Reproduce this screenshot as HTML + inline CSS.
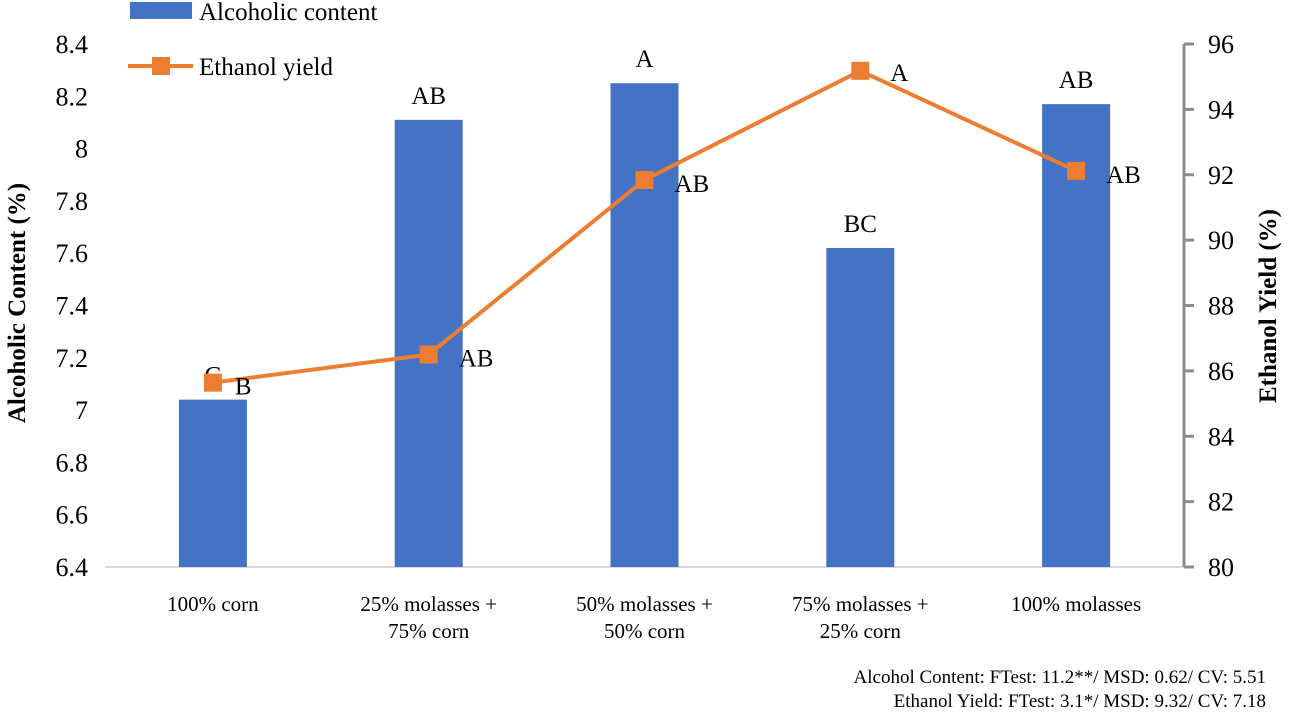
<!DOCTYPE html>
<html><head><meta charset="utf-8"><style>
html,body{margin:0;padding:0;background:#fff;}
svg{display:block;font-family:"Liberation Serif",serif;}
</style></head><body>
<svg id="chart" width="1292" height="713" viewBox="0 0 1292 713" xmlns="http://www.w3.org/2000/svg">
<g id="g"></g>
</svg>
<script>
const categories = [["100% corn"],["25% molasses +","75% corn"],["50% molasses +","50% corn"],["75% molasses +","25% corn"],["100% molasses"]];
const alcoholValues = [7.04, 8.11, 8.25, 7.62, 8.17];
const alcoholLabels = ["C","AB","A","BC","AB"];
const yieldValues = [85.64, 86.5, 91.84, 95.18, 92.12];
const yieldLabels = ["B","AB","AB","A","AB"];
const leftTicks = [6.4,6.6,6.8,7,7.2,7.4,7.6,7.8,8,8.2,8.4];
const leftTickLabels = ["6.4","6.6","6.8","7","7.2","7.4","7.6","7.8","8","8.2","8.4"];
const rightTicks = [80,82,84,86,88,90,92,94,96];

const NS="http://www.w3.org/2000/svg";
const gEl=document.getElementById('g');
const plotTop=44, plotBottom=567, px0=105, px1=1184;
const yL=v=>plotBottom-(v-6.4)/(8.4-6.4)*(plotBottom-plotTop);
const yR=v=>plotBottom-(v-80)/(96-80)*(plotBottom-plotTop);
const band=(px1-px0)/categories.length;
const xC=i=>px0+band*(i+0.5);
function mk(tag,attrs,text){const e=document.createElementNS(NS,tag);for(const k in attrs)e.setAttribute(k,attrs[k]);if(text!==undefined)e.textContent=text;gEl.appendChild(e);return e;}

leftTicks.forEach((t,i)=>{
  const e=mk('text',{x:88,y:yL(t)+9,'text-anchor':'end','font-size':26,fill:'#000'},leftTickLabels[i]);
  
  
});
const bl=mk('line',{x1:px0,y1:plotBottom,x2:px1,y2:plotBottom,stroke:'#d9d9d9','stroke-width':2});


alcoholValues.forEach((v,i)=>{
  const r=mk('rect',{x:xC(i)-34,y:yL(v),width:68,height:plotBottom-yL(v),fill:'#4472c4'});
  
  
  const t=mk('text',{x:xC(i),y:yL(v)-16,'text-anchor':'middle','font-size':25,fill:'#000'},alcoholLabels[i]);
  
  
});
const ra=mk('path',{d:`M${px1} ${plotTop} V${plotBottom}`,stroke:'#8c8c8c','stroke-width':3,fill:'none'});


rightTicks.forEach(t=>{
  const l=mk('line',{x1:px1,y1:yR(t),x2:px1+10,y2:yR(t),stroke:'#8c8c8c','stroke-width':3});
  
  
  const e=mk('text',{x:1208,y:yR(t)+9,'font-size':26,fill:'#000'},String(t));
  
  
});
const pts=yieldValues.map((v,i)=>`${xC(i)},${yR(v)}`).join(' ');
const pl=mk('polyline',{points:pts,fill:'none',stroke:'#ed7d31','stroke-width':4});


yieldValues.forEach((v,i)=>{
  const r=mk('rect',{x:xC(i)-9,y:yR(v)-9,width:18,height:18,fill:'#ed7d31'});
  
  
  const t=mk('text',{x:xC(i)+(i===0?22:30),y:yR(v)+(i===3?10:12),'font-size':25,fill:'#000'},yieldLabels[i]);
  
  
});
categories.forEach((c,i)=>{
  c.forEach((line,j)=>{
    const t=mk('text',{x:xC(i),y:611+j*27,'text-anchor':'middle','font-size':21,fill:'#000'},line);
    
    
  });
});
</script>
<script>
(function(){
const NS="http://www.w3.org/2000/svg";const s=document.getElementById('chart');
function mk(tag,attrs,text){const e=document.createElementNS(NS,tag);for(const k in attrs)e.setAttribute(k,attrs[k]);if(text!==undefined)e.textContent=text;s.appendChild(e);return e;}
let e;
e=mk('text',{x:0,y:0,transform:'translate(25,303) rotate(-90)','text-anchor':'middle','font-size':25,'font-weight':'bold'},'Alcoholic Content (%)');


e=mk('text',{x:0,y:0,transform:'translate(1276,306) rotate(-90)','text-anchor':'middle','font-size':25,'font-weight':'bold'},'Ethanol Yield (%)');


e=mk('rect',{x:130,y:2,width:62,height:17,fill:'#4472c4'});


e=mk('text',{x:199,y:20,'font-size':25},'Alcoholic content');


e=mk('line',{x1:128,y1:66,x2:193,y2:66,stroke:'#ed7d31','stroke-width':4});


e=mk('rect',{x:152,y:57,width:18,height:18,fill:'#ed7d31'});


e=mk('text',{x:199,y:75,'font-size':25},'Ethanol yield');


e=mk('text',{x:1266,y:683,'text-anchor':'end','font-size':19},'Alcohol Content: FTest: 11.2**/ MSD: 0.62/ CV: 5.51');


e=mk('text',{x:1266,y:707,'text-anchor':'end','font-size':19},'Ethanol Yield: FTest: 3.1*/ MSD: 9.32/ CV: 7.18');


})();
</script>
</body></html>
